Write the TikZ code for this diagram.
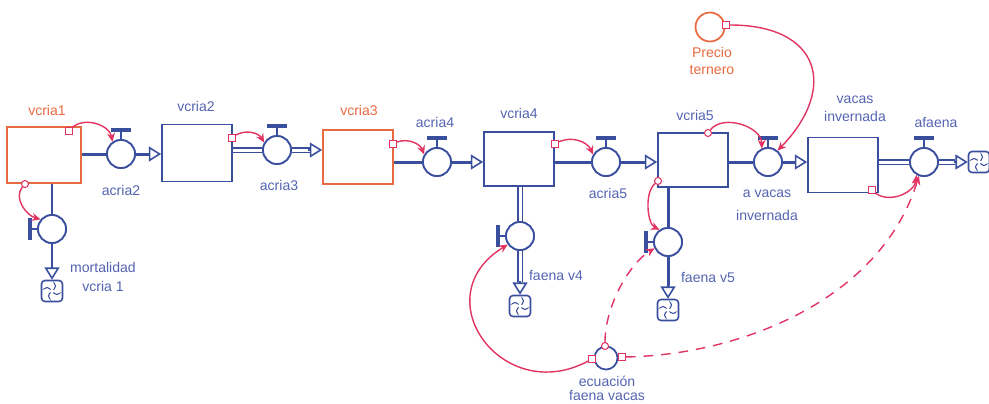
\documentclass[tikz,border=0pt]{standalone}
\usepackage{fontspec}
\newfontfamily\lblfont{Liberation Sans}
\usetikzlibrary{arrows.meta}
\definecolor{flowblue}{RGB}{58,78,158}
\definecolor{lblblue}{RGB}{84,100,178}
\definecolor{stockorange}{RGB}{232,106,64}
\definecolor{linkred}{RGB}{226,52,98}
\tikzset{
  stock/.style={draw=flowblue, line width=1pt, fill=white, minimum width=1.4cm, minimum height=1.1cm, inner sep=0pt},
  stockor/.style={stock, draw=stockorange},
  valve/.style={circle, draw=flowblue, line width=1pt, fill=white, minimum size=0.56cm, inner sep=0pt},
  aux/.style={circle, draw=flowblue, line width=1pt, fill=white, minimum size=0.46cm, inner sep=0pt},
  sink/.style={draw=flowblue, line width=0.9pt, fill=white, rounded corners=2pt, minimum size=0.42cm, inner sep=0pt,
    path picture={\foreach \ang in {45,135,225,315}
      \draw[flowblue, line width=0.6pt]
        ([shift={(\ang:0.4mm)}]path picture bounding box.center)
        -- ([shift={(\ang:1.4mm)}]path picture bounding box.center)
        -- ([shift={(\ang:1.4mm)}, shift={({\ang+90}:0.7mm)}]path picture bounding box.center);}},
  pipe/.style={draw=flowblue, line width=1.7pt},
  hollowpipe/.style={draw=flowblue, line width=0.75pt, double=white, double distance=1.7pt},
  flowtip/.style={draw=flowblue, line width=0.9pt, -{Triangle[open, length=7pt, width=8.5pt]}},
  stem/.style={draw=flowblue, line width=1pt},
  bar/.style={draw=flowblue, line width=2.2pt},
  link/.style={draw=linkred, line width=0.8pt, -{Stealth[length=5pt, width=4.5pt]}},
  dlink/.style={link, dash pattern=on 5.5pt off 4.5pt},
  tag/.style={draw=linkred, fill=white, line width=0.6pt, minimum size=4pt, inner sep=0pt},
  tagc/.style={tag, circle},
  lbl/.style={font=\lblfont\fontsize{8}{10}\selectfont, text=lblblue, align=center, inner sep=0pt}
}
\begin{document}
\begin{tikzpicture}[x=0.02cm, y=-0.02cm]
  \useasboundingbox (0,0) rectangle (989,403);

  % Niveles
  \node[stockor, minimum width=1.48cm, minimum height=1.12cm] (S1) at (44,155) {};
  \node[stock, minimum height=1.14cm] (S2) at (197,153) {};
  \node[stockor, minimum height=1.08cm] (S3) at (358,157) {};
  \node[stock, minimum height=1.08cm] (S4) at (519,159) {};
  \node[stock, minimum height=1.08cm] (S5) at (693,160) {};
  \node[stock, minimum height=1.1cm] (S6) at (843,165) {};

  % Valvulas y sumideros
  \node[valve] (V2) at (121,154) {};
  \node[valve] (V3) at (277,150) {};
  \node[valve] (V4) at (437,162) {};
  \node[valve] (V5) at (606,162) {};
  \node[valve] (V6) at (768,162) {};
  \node[valve] (V7) at (924,162) {};
  \node[valve] (VM) at (52,229) {};
  \node[valve] (VF4) at (520,236) {};
  \node[valve] (VF5) at (668,242) {};
  \node[sink] (C7) at (979,162) {};
  \node[sink] (CM) at (52,291) {};
  \node[sink] (CF4) at (520,306) {};
  \node[sink] (CF5) at (668,310) {};
  \coordinate (e2) at (V2 -| S2.west);
  \coordinate (e3) at (V3 -| S3.west);
  \coordinate (e4) at (V4 -| S4.west);
  \coordinate (e5) at (V5 -| S5.west);
  \coordinate (e6) at (V6 -| S6.west);

  % Flujos
  \draw[pipe] (V2 -| S1.east) -- (V2.west);
  \draw[pipe, shorten >=7pt] (V2.east) -- (e2);
  \draw[hollowpipe] (V3 -| S2.east) -- (V3.west);
  \draw[hollowpipe, shorten >=7pt] (V3.east) -- (e3);
  \draw[pipe] (V4 -| S3.east) -- (V4.west);
  \draw[pipe, shorten >=7pt] (V4.east) -- (e4);
  \draw[pipe] (V5 -| S4.east) -- (V5.west);
  \draw[pipe, shorten >=7pt] (V5.east) -- (e5);
  \draw[pipe] (V6 -| S5.east) -- (V6.west);
  \draw[pipe, shorten >=7pt] (V6.east) -- (e6);
  \draw[hollowpipe] (V7 -| S6.east) -- (V7.west);
  \draw[hollowpipe, shorten >=7pt] (V7.east) -- (C7.west);
  \draw[pipe] (VM |- S1.south) -- (VM.north);
  \draw[pipe, shorten >=7pt] (VM.south) -- (CM.north);
  \draw[hollowpipe] (VF4 |- S4.south) -- (VF4.north);
  \draw[hollowpipe, shorten >=7pt] (VF4.south) -- (CF4.north);
  \draw[pipe] (VF5 |- S5.south) -- (VF5.north);
  \draw[pipe, shorten >=7pt] (VF5.south) -- (CF5.north);
  \foreach \pt in {e2,e3,e4,e5,e6,C7.west}
    \draw[flowtip] ([xshift=-8pt]\pt) -- (\pt);
  \foreach \pt in {CM.north,CF4.north,CF5.north}
    \draw[flowtip] ([yshift=8pt]\pt) -- (\pt);

  % redibujar valvulas encima de los caños
  \foreach \vlv in {V2,V3,V4,V5,V6,V7,VM,VF4,VF5}
    \node[valve] at (\vlv) {};
  \foreach \vlv in {V2,V3,V4,V5,V6,V7}{
    \draw[stem] (\vlv.north) -- ++(0,-9);
    \draw[bar] ([shift={(-10,-9)}]\vlv.north) -- ([shift={(10,-9)}]\vlv.north);
  }
  \foreach \vlv in {VM,VF4,VF5}{
    \draw[stem] (\vlv.west) -- ++(-7,0);
    \draw[bar] ([shift={(-7,-11)}]\vlv.west) -- ([shift={(-7,11)}]\vlv.west);
  }

  % Auxiliares
  \node[aux, draw=stockorange, minimum size=0.58cm] (PT) at (710,27) {};
  \node[aux] (EC) at (606,358) {};

  % Conectores
  \node[tag] (t1) at (69,131) {};
  \node[tagc] (t2) at (25,184) {};
  \node[tag] (t3) at (232,138) {};
  \node[tag] (t4) at (393,144) {};
  \node[tag] (t5) at (555,144) {};
  \node[tagc] (t6) at (708,133) {};
  \node[tagc] (t7) at (658,181) {};
  \node[tag] (t8) at (726,25) {};
  \node[tag] (t9) at (872,190) {};
  \node[tag] (t10) at (592,359) {};
  \node[tagc] (t11) at (605,346) {};
  \node[tag] (t12) at (622,357) {};

  \draw[link] (t1) to[bend left=60] (V2.125);
  \draw[link] (t2) .. controls +(-12,14) and +(-14,-4) .. (VM.140);
  \draw[link] (t3) to[bend left=45] (V3.150);
  \draw[link] (t4) to[bend left=45] (V4.150);
  \draw[link] (t5) to[bend left=45] (V5.150);
  \draw[link] (t6) to[bend left=70] (V6.115);
  \draw[link] (t7) .. controls +(-14,12) and +(-12,-6) .. (VF5.125);
  \draw[link] (t8) .. controls +(95,0) and +(60,-62) .. (V6.50);
  \draw[link] (t9) to[bend right=60] (V7.240);
  \draw[link] (t10) .. controls +(-90,48) and +(-85,52) .. (VF4.215);
  \draw[dlink] (t11) .. controls +(0,-40) and +(-25,15) .. (VF5.205);
  \draw[dlink] (t12) .. controls +(118,-2) and +(-38,124) .. (V7.250);

  % Etiquetas
  \node[lbl, text=stockorange] (l1) at (47,110) {vcria1};
  \node[lbl] (l2) at (196,106) {vcria2};
  \node[lbl, text=stockorange] (l3) at (359,110) {vcria3};
  \node[lbl] (l4) at (519,113) {vcria4};
  \node[lbl] (l5) at (695,115) {vcria5};
  \node[lbl] (l6) at (855,109) {vacas\\invernada};
  \node[lbl] (lv2) at (121,190) {acria2};
  \node[lbl] (lv3) at (279,185) {acria3};
  \node[lbl] (lv4) at (435,122) {acria4};
  \node[lbl] (lv5) at (608,193) {acria5};
  \node[lbl] (lv6) at (767,205) {a vacas\\[3pt]invernada};
  \node[lbl] (lv7) at (936,122) {afaena};
  \node[lbl] (lvm) at (103,277) {mortalidad\\[1pt]vcria 1};
  \node[lbl] (lf4) at (556,275) {faena v4};
  \node[lbl] (lf5) at (708,277) {faena v5};
  \node[lbl, text=stockorange] (lpt) at (712,61) {Precio\\ternero};
  \node[lbl] (lec) at (607,388) {ecuación\\[-2pt]faena vacas};
\end{tikzpicture}
\end{document}
